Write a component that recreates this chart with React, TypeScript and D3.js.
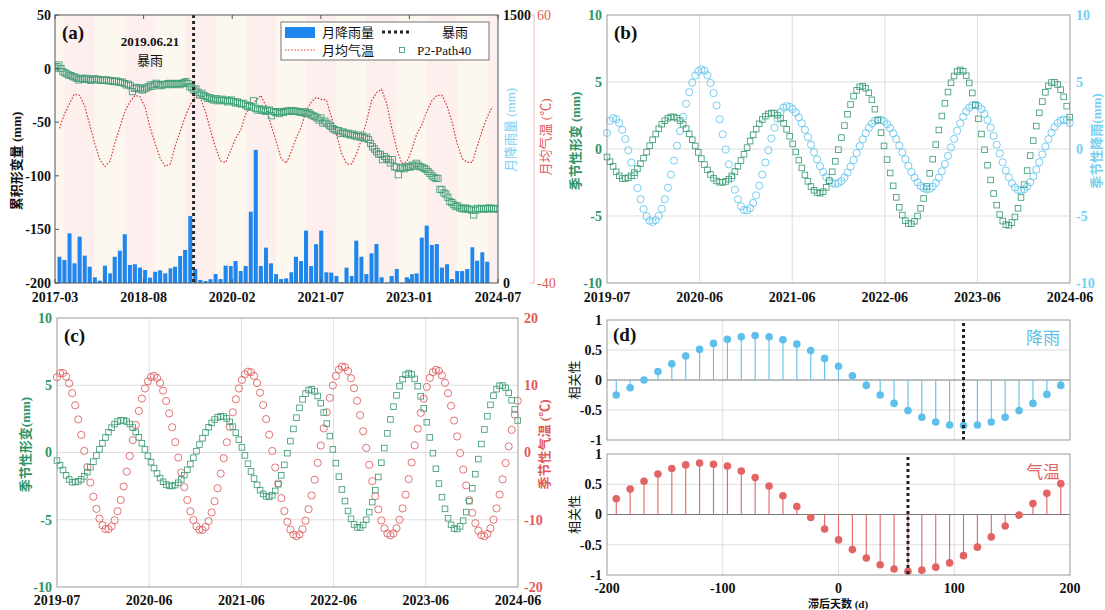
import React from "react";
import * as d3 from "d3";

// ---------------- data ----------------
const rainFirstMonth = "2017-04";
const monthlyRain = [
  147, 129, 278, 110, 259, 153, 91, 32, 13, 97, 54, 147, 181, 273, 101, 105, 86, 73, 30, 63,
  71, 54, 82, 91, 151, 185, 375, 78, 17, 11, 21, 50, 22, 97, 95, 123, 67, 95, 399, 745,
  95, 198, 110, 50, 22, 26, 60, 147, 123, 293, 95, 217, 293, 60, 58, 39, 5, 86, 39, 237,
  147, 50, 166, 218, 32, 3, 39, 78, 3, 32, 50, 54, 254, 321, 213, 218, 86, 105, 22, 67,
  67, 78, 200, 125, 172, 119,
];

const tempFirstMonth = "2017-04";
const monthlyTemp = [
  17.7, 23, 27, 30.5, 30, 26, 19, 12, 6, 3.5, 5.5, 12, 18, 24, 27.5, 30, 29.5, 25.5, 18, 12,
  6.5, 3.5, 4.5, 11, 16.5, 22, 26.5, 29.5, 29, 24, 17, 10.5, 5.5, 5, 9.5, 14, 17, 23, 26.5, 28,
  30, 26, 19, 13, 6.5, 4.7, 9, 14, 18, 24, 27.5, 29.2, 28.5, 28.3, 22, 15.5, 8.5, 4.5, 4.4, 8,
  13.5, 20, 28, 31, 32.3, 27, 18, 10, 4.7, 5.2, 10, 15.5, 19, 24, 28, 30, 30, 26, 20, 12,
  6.5, 5, 5, 11, 17, 22, 25.8,
];

const p2FirstDate = "2017-03-05";
const p2StepDays = 12;
const p2Path40 = [
  0.5, 1.8, 3.4, 0, -2.9, -4, -5, -6, -6.5, -7.5,
  -8, -9, -10.6, -9, -9.5, -10, -9, -10, -11, -10,
  -9.5, -10.5, -10, -11, -10.6, -11, -10.5, -11.5, -11, -12,
  -12.2, -11.5, -12.5, -13, -12.5, -14, -15.3, -14.5, -16, -21.5,
  -18.4, -17.5, -19, -18, -20, -19, -18, -17, -15.3, -16.5,
  -15, -13.7, -15, -16, -15.3, -14.5, -15, -14, -13.7, -15,
  -14.5, -14, -13.7, -15, -14, -13, -12.2, -14, -16.8, -18,
  -20, -19, -22, -24.6, -23, -25, -26, -27.7, -27, -28.5,
  -29.3, -28, -30, -29.3, -28.5, -30, -29.3, -31, -30, -29.3,
  -31, -32, -31, -32.4, -33, -32.4, -34, -35.5, -34.5, -36,
  -30, -37, -38.6, -37.5, -39, -38, -40, -39, -38.6, -44,
  -40, -41, -40.2, -42, -40, -41, -40, -39.5, -40, -39,
  -40, -39.5, -40, -40.5, -41, -40, -41.5, -42, -41, -43,
  -44, -44.8, -46, -48, -46, -50.8, -49, -51, -52.6, -54,
  -56, -57, -58, -57.9, -60.4, -59, -60, -61, -60.4, -62,
  -61, -62.5, -63.5, -62, -64, -63, -65, -64, -66, -69.7,
  -72.9, -75, -77.5, -79.7, -80, -85, -82, -83.7, -85, -88,
  -85, -91.5, -92, -99, -93, -92, -93.5, -92, -91.5, -92,
  -90, -91, -88.3, -90, -91.5, -92, -93, -94, -96, -97.7,
  -100, -101.5, -102.4, -102.4, -112.6, -113, -116, -117, -120, -124,
  -125, -127, -128.8, -128, -130, -130.5, -131, -130, -131, -131,
  -132, -136.5, -132, -130.3, -131, -130.5, -131, -130.3, -131, -130,
  -130.5, -131, -130.3, -131,
];

const stormDate = "2019-06-21";
const stormLabel = "2019.06.21";

const seasonFirstDate = "2019-07-01";
const seasonLastDate = "2024-06-29";
const seasonStepDays = 12;
const seasonalDeform = [
  -0.6, -0.95, -1.3, -1.7, -2.0, -2.2, -2.2, -2.14, -2.0, -1.77,
  -1.46, -1.09, -0.68, -0.23, 0.24, 0.69, 1.12, 1.51, 1.85, 2.11,
  2.3, 2.39, 2.39, 2.3, 2.12, 1.85, 1.52, 1.13, 0.69, 0.23,
  -0.25, -0.72, -1.16, -1.56, -1.9, -2.18, -2.38, -2.48, -2.49, -2.42,
  -2.25, -2.0, -1.68, -1.29, -0.86, -0.39, 0.1, 0.59, 1.06, 1.49,
  1.88, 2.2, 2.45, 2.62, 2.69, 2.67, 2.53, 2.28, 1.92, 1.47,
  0.95, 0.38, -0.22, -0.83, -1.41, -1.94, -2.41, -2.8, -3.08, -3.25,
  -3.3, -3.18, -2.86, -2.36, -1.7, -0.92, -0.05, 0.85, 1.75, 2.59,
  3.32, 3.95, 4.38, 4.64, 4.69, 4.54, 4.2, 3.67, 2.97, 2.15,
  1.22, 0.23, -0.79, -1.79, -2.75, -3.61, -4.35, -4.93, -5.35, -5.56,
  -5.58, -5.39, -5.0, -4.43, -3.69, -2.8, -1.82, -0.76, 0.33, 1.42,
  2.46, 3.41, 4.25, 4.94, 5.45, 5.78, 5.9, 5.8, 5.47, 4.93,
  4.18, 3.28, 2.25, 1.12, -0.05, -1.21, -2.31, -3.32, -4.19, -4.89,
  -5.38, -5.65, -5.69, -5.49, -5.07, -4.43, -3.62, -2.66, -1.61, -0.49,
  0.63, 1.71, 2.7, 3.54, 4.23, 4.71, 4.96, 4.98, 4.81, 4.43,
  3.89, 3.2, 2.38,
];
const seasonalRain = [
  1.2, 2.1, 2.3, 2.23, 1.94, 1.43, 0.74, -0.09, -1.02, -1.97,
  -2.91, -3.76, -4.48, -5.02, -5.35, -5.45, -5.32, -4.99, -4.46, -3.75,
  -2.89, -1.91, -0.86, 0.25, 1.34, 2.4, 3.38, 4.24, 4.95, 5.48,
  5.81, 5.94, 5.84, 5.5, 4.93, 4.17, 3.25, 2.21, 1.1, -0.04,
  -1.14, -2.15, -3.04, -3.75, -4.27, -4.55, -4.59, -4.41, -4.03, -3.46,
  -2.74, -1.91, -1.01, -0.09, 0.79, 1.59, 2.26, 2.77, 3.09, 3.2,
  3.14, 2.98, 2.72, 2.36, 1.92, 1.43, 0.89, 0.32, -0.24, -0.78,
  -1.28, -1.72, -2.09, -2.37, -2.54, -2.6, -2.55, -2.39, -2.12, -1.76,
  -1.32, -0.83, -0.31, 0.22, 0.72, 1.18, 1.58, 1.89, 2.1, 2.19,
  2.18, 2.06, 1.85, 1.55, 1.17, 0.74, 0.26, -0.25, -0.76, -1.26,
  -1.72, -2.14, -2.48, -2.75, -2.92, -3.0, -2.97, -2.8, -2.53, -2.14,
  -1.66, -1.12, -0.51, 0.12, 0.75, 1.36, 1.92, 2.41, 2.8, 3.09,
  3.26, 3.3, 3.2, 2.98, 2.62, 2.16, 1.6, 0.98, 0.32, -0.34,
  -0.99, -1.6, -2.12, -2.55, -2.87, -3.05, -3.1, -3.01, -2.8, -2.47,
  -2.05, -1.54, -0.99, -0.4, 0.18, 0.73, 1.22, 1.63, 1.94, 2.13,
  2.2, 2.15, 1.95,
];
const seasonalTemp = [
  11.2, 11.8, 11.82, 11.28, 10.27, 8.83, 7.02, 4.92, 2.62, 0.23,
  -2.17, -4.47, -6.57, -8.38, -9.82, -10.83, -11.37, -11.4, -10.97, -10.07,
  -8.73, -7.05, -5.05, -2.84, -0.52, 1.84, 4.1, 6.18, 8.02, 9.52,
  10.58, 11.23, 11.4, 11.09, 10.34, 9.19, 7.66, 5.82, 3.76, 1.54,
  -0.75, -2.99, -5.15, -7.07, -8.75, -10.05, -10.98, -11.47, -11.51, -11.08,
  -10.2, -8.91, -7.26, -5.32, -3.14, -0.84, 1.52, 3.81, 5.98, 7.91,
  9.52, 10.79, 11.64, 12.03, 11.94, 11.38, 10.33, 8.89, 7.06, 4.97,
  2.64, 0.22, -2.23, -4.6, -6.79, -8.7, -10.31, -11.47, -12.21, -12.45,
  -12.19, -11.4, -10.14, -8.44, -6.39, -4.05, -1.54, 1.03, 3.58, 5.98,
  8.13, 9.98, 11.37, 12.33, 12.77, 12.69, 12.11, 11.04, 9.56, 7.69,
  5.55, 3.16, 0.68, -1.83, -4.26, -6.5, -8.46, -10.1, -11.3, -12.05,
  -12.3, -12.04, -11.26, -10.0, -8.31, -6.27, -3.96, -1.49, 1.06, 3.55,
  5.89, 8.0, 9.75, 11.09, 11.95, 12.29, 12.13, 11.47, 10.36, 8.82,
  6.94, 4.75, 2.39, -0.08, -2.54, -4.9, -7.09, -8.97, -10.51, -11.62,
  -12.28, -12.45, -12.11, -11.28, -9.99, -8.31, -6.26, -4.0, -1.57, 0.91,
  3.36, 5.64, 7.7,
];

const lagDays = [
  -192, -180, -168, -156, -144, -132, -120, -108, -96, -84, -72, -60, -48, -36, -24, -12, 0,
  12, 24, 36, 48, 60, 72, 84, 96, 108, 120, 132, 144, 156, 168, 180, 192,
];
const corrRain = [
  -0.25, -0.13, 0.0, 0.14, 0.27, 0.4, 0.51, 0.61, 0.68, 0.72, 0.74, 0.72, 0.67, 0.6, 0.49, 0.36, 0.23,
  0.07, -0.09, -0.25, -0.39, -0.51, -0.62, -0.7, -0.75, -0.76, -0.75, -0.7, -0.62, -0.51, -0.39, -0.24, -0.09,
];
const corrTemp = [
  0.26, 0.42, 0.55, 0.67, 0.76, 0.82, 0.85, 0.83, 0.8, 0.72, 0.61, 0.47, 0.31, 0.13, -0.05, -0.24, -0.42,
  -0.58, -0.72, -0.83, -0.9, -0.94, -0.92, -0.87, -0.8, -0.68, -0.54, -0.37, -0.19, -0.01, 0.18, 0.35, 0.51,
];
const bestLagRain = 108;
const bestLagTemp = 60;

const ticksA = ["2017-03", "2018-08", "2020-02", "2021-07", "2023-01", "2024-07"];
const ticksBC = ["2019-07", "2020-06", "2021-06", "2022-06", "2023-06", "2024-06"];
const wetYears = [2017, 2018, 2019, 2020, 2021, 2022, 2023, 2024];

// ---------------- styles ----------------
const NUM = "'Liberation Serif','Times New Roman','Noto Sans CJK SC',serif";
const GREEN = "#3f9d76";
const GREEN_T = "#2e9468";
const LBLUE = "#66c6ee";
const LBLUE_T = "#78cff0";
const RED = "#e06262";
const RED_T = "#e05a5a";
const BAR = "#1f86ee";
const GRID = "#dedede";
const FRAME = "#9a9a9a";

const parseDay = d3.timeParse("%Y-%m-%d");
const parseMonth = d3.timeParse("%Y-%m");

// evenly spaced tick positions over a time domain (MATLAB-like datetick)
function evenTicks(domain: Date[], n: number) {
  const a = +domain[0], b = +domain[1];
  return d3.range(n).map((k) => new Date(a + (k * (b - a)) / (n - 1)));
}

function Square({ x, y, s = 6, c = GREEN }: any) {
  return <rect x={x - s / 2} y={y - s / 2} width={s} height={s} fill="none" stroke={c} strokeWidth={0.85} />;
}

function SeasonPanel({ id, left, right, top, bottom, other, otherDomain, otherColor, otherText, otherTicks, leftTitle, rightTitle, xLabelY }: any) {
  const t0 = parseDay(seasonFirstDate)!;
  const dom = [t0, parseDay(seasonLastDate)!];
  const x = d3.scaleTime().domain(dom).range([left, right]);
  const y = d3.scaleLinear().domain([-10, 10]).range([bottom, top]);
  const y2 = d3.scaleLinear().domain(otherDomain).range([bottom, top]);
  const tickDates = evenTicks(dom, ticksBC.length);
  const dates = seasonalDeform.map((_, i) => d3.timeDay.offset(t0, i * seasonStepDays));
  const yTicks = [-10, -5, 0, 5, 10];
  return (
    <g>
      <rect x={left} y={top} width={right - left} height={bottom - top} fill="#fff" />
      {tickDates.slice(1, -1).map((d, k) => (
        <line key={"gx" + k} x1={x(d)} x2={x(d)} y1={top} y2={bottom} stroke={GRID} strokeWidth={1} />
      ))}
      {[-5, 0, 5].map((v) => (
        <line key={"gy" + v} x1={left} x2={right} y1={y(v)} y2={y(v)} stroke={GRID} strokeWidth={1} />
      ))}
      {other.map((v: number, i: number) => (
        <circle key={"o" + i} cx={x(dates[i])} cy={y2(v)} r={3.6} fill="none" stroke={otherColor} strokeWidth={0.9} />
      ))}
      {seasonalDeform.map((v, i) => (
        <Square key={"s" + i} x={x(dates[i])} y={y(v)} s={5.6} />
      ))}
      <rect x={left} y={top} width={right - left} height={bottom - top} fill="none" stroke={FRAME} strokeWidth={1} />
      {yTicks.map((v) => (
        <text key={"yl" + v} x={left - 5} y={y(v)} dy="0.35em" textAnchor="end" fontFamily={NUM} fontWeight="bold" fontSize={14} fill={GREEN_T}>
          {v}
        </text>
      ))}
      {otherTicks.map((v: number) => (
        <text key={"yr" + v} x={right + 6} y={y2(v)} dy="0.35em" textAnchor="start" fontFamily={NUM} fontWeight="bold" fontSize={14} fill={otherText}>
          {v}
        </text>
      ))}
      {tickDates.map((d, k) => (
        <text key={"xl" + k} x={x(d)} y={xLabelY} textAnchor="middle" fontFamily={NUM} fontWeight="bold" fontSize={14} fill="#111">
          {ticksBC[k]}
        </text>
      ))}
      <text transform={`translate(${left - 27},${(top + bottom) / 2 - 8}) rotate(-90)`} textAnchor="middle" fontFamily={NUM} fontSize={13} fontWeight="bold" fill={GREEN_T}>
        {leftTitle}
      </text>
      <text transform={`translate(${right + 31},${(top + bottom) / 2 - 8}) rotate(-90)`} textAnchor="middle" fontFamily={NUM} fontSize={13} fontWeight="bold" fill={otherText}>
        {rightTitle}
      </text>
      <text x={left + 7} y={top + 24} fontFamily={NUM} fontWeight="bold" fontSize={19} fill="#111">
        {id}
      </text>
    </g>
  );
}

function StemPanel({ top, bottom, values, color, best, name, showX }: any) {
  const left = 607, right = 1070;
  const x = d3.scaleLinear().domain([-200, 200]).range([left, right]);
  const y = d3.scaleLinear().domain([-1, 1]).range([bottom, top]);
  return (
    <g>
      {[-100, 0, 100].map((v) => (
        <line key={"gx" + v} x1={x(v)} x2={x(v)} y1={top} y2={bottom} stroke={GRID} />
      ))}
      {[-0.5, 0.5].map((v) => (
        <line key={"gy" + v} x1={left} x2={right} y1={y(v)} y2={y(v)} stroke={GRID} />
      ))}
      <line x1={left} x2={right} y1={y(0)} y2={y(0)} stroke="#7a7a7a" strokeWidth={1} />
      {values.map((v: number, i: number) => (
        <g key={i}>
          <line x1={x(lagDays[i])} x2={x(lagDays[i])} y1={y(0)} y2={y(v)} stroke={color} strokeWidth={1.1} />
          <circle cx={x(lagDays[i])} cy={y(v)} r={3.8} fill={color} />
        </g>
      ))}
      <line x1={x(best)} x2={x(best)} y1={top + 3} y2={bottom} stroke="#222" strokeWidth={3} strokeDasharray="3,3" />
      <rect x={left} y={top} width={right - left} height={bottom - top} fill="none" stroke={FRAME} />
      {[-1, -0.5, 0, 0.5, 1].map((v) => (
        <text key={"yl" + v} x={left - 5} y={y(v)} dy="0.35em" textAnchor="end" fontFamily={NUM} fontWeight="bold" fontSize={14} fill="#111">
          {v}
        </text>
      ))}
      {showX &&
        [-200, -100, 0, 100, 200].map((v) => (
          <text key={"xl" + v} x={x(v)} y={bottom + 18} textAnchor="middle" fontFamily={NUM} fontWeight="bold" fontSize={14} fill="#111">
            {v}
          </text>
        ))}
      <text transform={`translate(${left - 28},${(top + bottom) / 2}) rotate(-90)`} textAnchor="middle" fontFamily={NUM} fontSize={13} fill="#111">
        相关性
      </text>
      <text x={right - 10} y={top + 24} textAnchor="end" fontFamily={NUM} fontSize={17} fill={color}>
        {name}
      </text>
    </g>
  );
}

export default function App() {
  // ---- panel (a) ----
  const L = 55, R = 498, T = 15, B = 283;
  const domA = [parseDay("2017-03-05")!, parseDay("2024-07-05")!];
  const xA = d3.scaleTime().domain(domA).range([L, R]);
  const yA = d3.scaleLinear().domain([-200, 50]).range([B, T]);
  const yRain = d3.scaleLinear().domain([0, 1500]).range([B, T]);
  const yTemp = d3.scaleLinear().domain([-40, 60]).range([B, T]);
  const aTicks = evenTicks(domA, ticksA.length);
  const rain0 = parseMonth(rainFirstMonth)!;
  const temp0 = parseMonth(tempFirstMonth)!;
  const p20 = parseDay(p2FirstDate)!;
  const storm = parseDay(stormDate)!;
  const tempLine = d3
    .line<number>()
    .x((_, i) => xA(d3.timeMonth.offset(temp0, i)))
    .y((v) => yTemp(v))(monthlyTemp) as string;
  const tempAxisX = 534;

  return (
    <svg width={1105} height={610} style={{ position: "absolute", left: 0, top: 0, background: "#fff" }}>
      <defs>
        <clipPath id="clipA">
          <rect x={L} y={T} width={R - L} height={B - T} />
        </clipPath>
      </defs>

      {/* ===== (a) ===== */}
      <rect x={L} y={T} width={R - L} height={B - T} fill="#fdf8ef" />
      <g clipPath="url(#clipA)">
        {wetYears.map((yr) => {
          const x1 = xA(new Date(yr, 4, 1));
          const x2 = xA(new Date(yr, 10, 1));
          return <rect key={yr} x={x1} y={T} width={x2 - x1} height={B - T} fill="#fcefee" />;
        })}
        {monthlyRain.map((v, k) => {
          const d = d3.timeMonth.offset(rain0, k);
          const xc = xA(d);
          const w = (xA(d3.timeMonth.offset(d, 1)) - xc) * 0.8;
          return <rect key={"b" + k} x={xc - w / 2} y={yRain(v)} width={w} height={B - yRain(v)} fill={BAR} />;
        })}
        <path d={tempLine} fill="none" stroke="#d83a3a" strokeWidth={1.2} strokeDasharray="1.6,1.6" />
        {p2Path40.map((v, i) => (
          <Square key={"p" + i} x={xA(d3.timeDay.offset(p20, i * p2StepDays))} y={yA(v)} s={6.2} />
        ))}
        <line x1={xA(storm)} x2={xA(storm)} y1={T} y2={B} stroke="#2a2a2a" strokeWidth={3} strokeDasharray="3,3" />
      </g>
      <rect x={L} y={T} width={R - L} height={B - T} fill="none" stroke="#555" strokeWidth={1} />
      {aTicks.map((d, k) => (
        <g key={"at" + k}>
          <line x1={xA(d)} x2={xA(d)} y1={B} y2={B - 4} stroke="#555" />
          <line x1={xA(d)} x2={xA(d)} y1={T} y2={T + 4} stroke="#555" />
          <text x={xA(d)} y={302} textAnchor="middle" fontFamily={NUM} fontWeight="bold" fontSize={14} fill="#111">
            {ticksA[k]}
          </text>
        </g>
      ))}
      {[-200, -150, -100, -50, 0, 50].map((v) => (
        <g key={"ay" + v}>
          <line x1={L} x2={L + 4} y1={yA(v)} y2={yA(v)} stroke="#555" />
          <text x={L - 4} y={yA(v)} dy="0.35em" textAnchor="end" fontFamily={NUM} fontWeight="bold" fontSize={14} fill="#111">
            {v}
          </text>
        </g>
      ))}
      {[0, 1500].map((v) => (
        <text key={"ar" + v} x={R + 5} y={yRain(v)} dy="0.35em" fontFamily={NUM} fontWeight="bold" fontSize={14} fill="#111">
          {v}
        </text>
      ))}
      <line x1={tempAxisX} x2={tempAxisX} y1={T} y2={B} stroke="#f2b8b8" strokeWidth={1} />
      {[-40, 60].map((v) => (
        <g key={"tr" + v}>
          <line x1={tempAxisX} x2={tempAxisX - 4} y1={yTemp(v)} y2={yTemp(v)} stroke="#f2b8b8" />
          <text x={tempAxisX + 3} y={yTemp(v)} dy="0.35em" fontFamily={NUM} fontSize={14} fill={RED_T}>
            {v}
          </text>
        </g>
      ))}
      <text transform={`translate(21,${(T + B) / 2 + 12}) rotate(-90)`} textAnchor="middle" fontFamily={NUM} fontSize={13} fontWeight="bold" fill="#111">
        累积形变量 (mm)
      </text>
      <text transform={`translate(515,130) rotate(-90)`} textAnchor="middle" fontFamily={NUM} fontSize={13} fill={LBLUE_T}>
        月降雨量 (mm)
      </text>
      <text transform={`translate(550,137) rotate(-90)`} textAnchor="middle" fontFamily={NUM} fontSize={13} fill={RED_T}>
        月均气温 (℃)
      </text>
      <text x={62} y={39} fontFamily={NUM} fontWeight="bold" fontSize={19} fill="#111">
        (a)
      </text>
      <text x={150} y={46} textAnchor="middle" fontFamily={NUM} fontWeight="bold" fontSize={13} fill="#111">
        {stormLabel}
      </text>
      <text x={150} y={65} textAnchor="middle" fontFamily={NUM} fontSize={13} fill="#111">
        暴雨
      </text>

      {/* legend */}
      <g>
        <rect x={281} y={22} width={208} height={38} fill="#fff" stroke="#555" strokeWidth={0.8} />
        <rect x={285} y={27} width={30} height={11} fill={BAR} />
        <text x={322} y={37} fontFamily={NUM} fontSize={13} fill="#111">月降雨量</text>
        <line x1={382} x2={410} y1={32} y2={32} stroke="#222" strokeWidth={3} strokeDasharray="3,3" />
        <text x={442} y={37} fontFamily={NUM} fontSize={13} fill="#111">暴雨</text>
        <line x1={285} x2={315} y1={50} y2={50} stroke="#d83a3a" strokeWidth={1.2} strokeDasharray="1.6,1.6" />
        <text x={322} y={55} fontFamily={NUM} fontSize={13} fill="#111">月均气温</text>
        <Square x={402} y={50} s={5} />
        <text x={417} y={55} fontFamily={NUM} fontSize={13} fill="#111">P2-Path40</text>
      </g>

      {/* ===== (b) ===== */}
      <SeasonPanel
        id="(b)"
        left={607}
        right={1070}
        top={15}
        bottom={283}
        other={seasonalRain}
        otherDomain={[-10, 10]}
        otherColor={LBLUE}
        otherText={LBLUE_T}
        otherTicks={[-10, -5, 0, 5, 10]}
        leftTitle="季节性形变 (mm)"
        rightTitle="季节性降雨(mm)"
        xLabelY={302}
      />

      {/* ===== (c) ===== */}
      <SeasonPanel
        id="(c)"
        left={57}
        right={518}
        top={318}
        bottom={587}
        other={seasonalTemp}
        otherDomain={[-20, 20]}
        otherColor={RED}
        otherText={RED_T}
        otherTicks={[-20, -10, 0, 10, 20]}
        leftTitle="季节性形变(mm)"
        rightTitle="季节性气温 (℃)"
        xLabelY={605}
      />

      {/* ===== (d) ===== */}
      <StemPanel top={320} bottom={440} values={corrRain} color="#5dbfea" best={bestLagRain} name="降雨" showX={false} />
      <StemPanel top={454} bottom={575} values={corrTemp} color="#e26464" best={bestLagTemp} name="气温" showX={true} />
      <text x={613} y={341} fontFamily={NUM} fontWeight="bold" fontSize={19} fill="#111">
        (d)
      </text>
      <text x={838} y={608} textAnchor="middle" fontFamily={NUM} fontSize={11} fontWeight="bold" fill="#111">
        滞后天数 (d)
      </text>
    </svg>
  );
}
